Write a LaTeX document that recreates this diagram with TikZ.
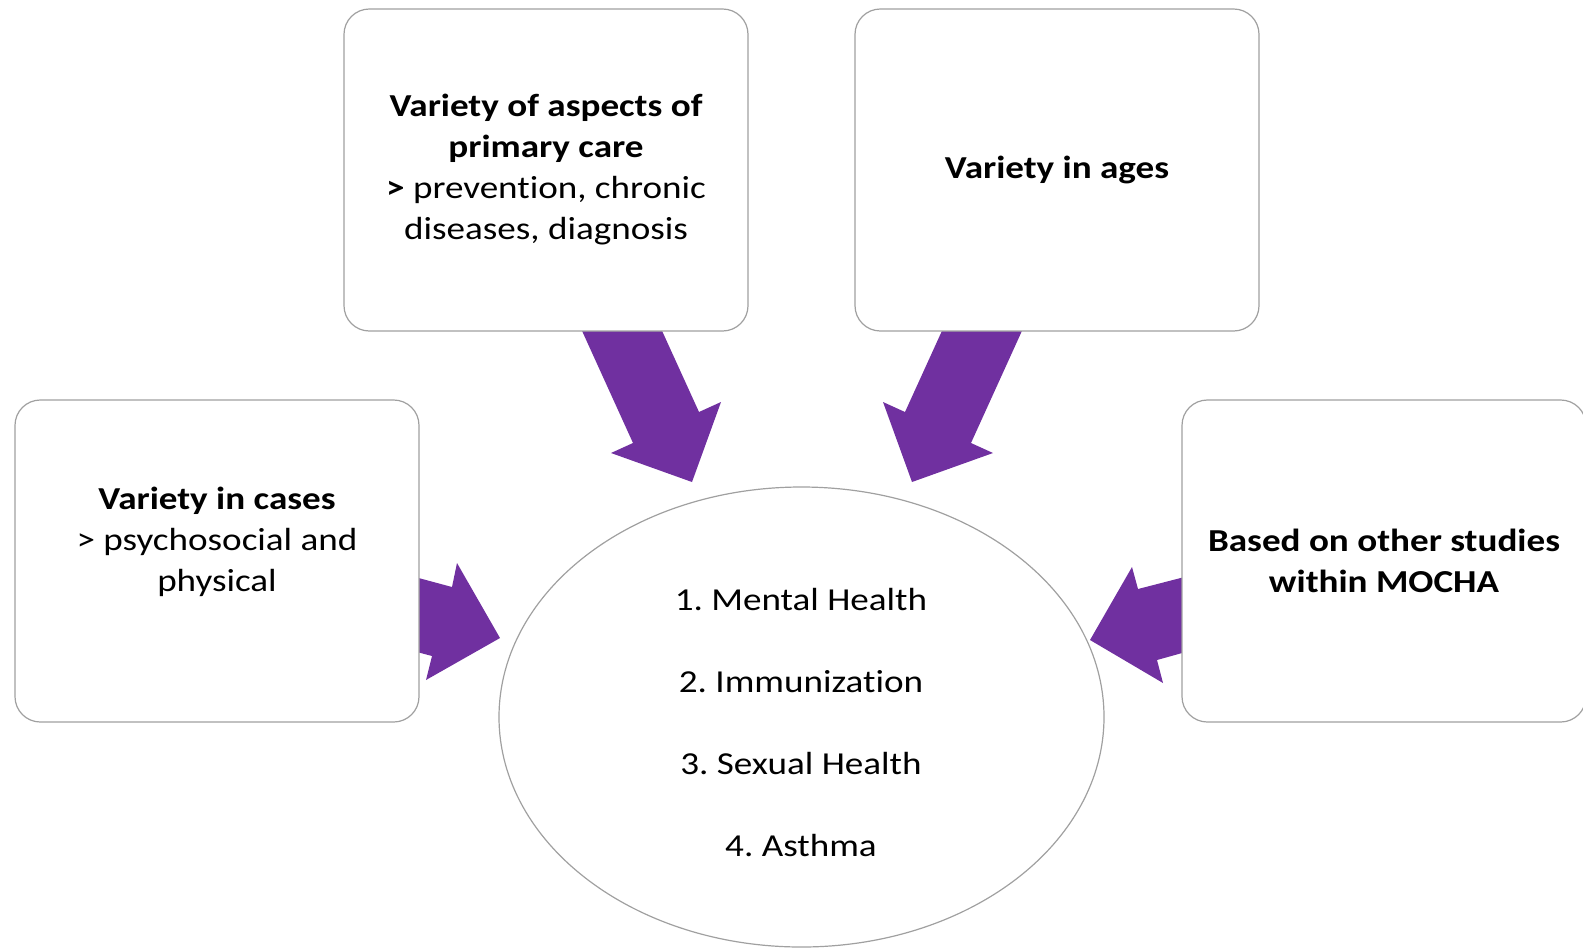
\documentclass[tikz,border=0pt]{standalone}
\usepackage{fontspec}
\setmainfont{Carlito}[FakeStretch=1.16, Ligatures=NoCommon]
\usetikzlibrary{shapes.geometric}
\definecolor{arrowpurple}{HTML}{7030A0}
\definecolor{edgegray}{HTML}{A0A0A0}
\begin{document}
\frenchspacing
\begin{tikzpicture}[x=0.75pt,y=-0.75pt,
  card/.style={draw=edgegray, line width=0.9pt, fill=white, rounded corners=19pt,
    minimum width=303pt, minimum height=241.5pt, inner sep=0pt, align=center,
    font=\fontsize{24}{30.75}\selectfont},
  txt/.style={align=center, inner sep=0pt, font=\fontsize{24}{61.5}\selectfont},
  blockarrow/.style={fill=arrowpurple}]
\useasboundingbox (0,0) rectangle (1583,947);
% block arrows (drawn first, partly hidden under the boxes)
\fill[blockarrow] (573,311) -- (633,443) -- (611,453) -- (692,482) -- (721,402) -- (699,412) -- (653,311) -- cycle;
\fill[blockarrow] (1031,311) -- (971,443) -- (993,453) -- (912,482) -- (883,402) -- (905,412) -- (951,311) -- cycle;
\fill[blockarrow] (400,573) -- (452,587) -- (457,563) -- (500,638) -- (426,680) -- (432,656) -- (400,647.5) -- cycle;
\fill[blockarrow] (1200,573) -- (1138,589) -- (1132,567) -- (1090,640) -- (1163,683) -- (1157,660) -- (1200,648) -- cycle;
% boxes
\node[card] (aspects) at (546,170) {\textbf{Variety of aspects of}\\\textbf{primary care}\\\textbf{>} prevention, chronic\\diseases, diagnosis};
\node[card] (ages) at (1057,170) {\textbf{Variety in ages}};
\node[card] (cases) at (217,561) {\textbf{Variety in cases}\\> psychosocial and\\physical\\[-7.5pt]\strut};
\node[card] (studies) at (1384,561) {\textbf{Based on other studies}\\\textbf{within MOCHA}};
% central ellipse
\node[draw=edgegray, line width=0.9pt, ellipse, minimum width=453.75pt, minimum height=345pt, inner sep=0pt] (focus) at (801.5,717) {};
\node[txt] (items) at (801,722.5) {1. Mental Health\\2. Immunization\\3. Sexual Health\\4. Asthma};
\end{tikzpicture}
\end{document}
